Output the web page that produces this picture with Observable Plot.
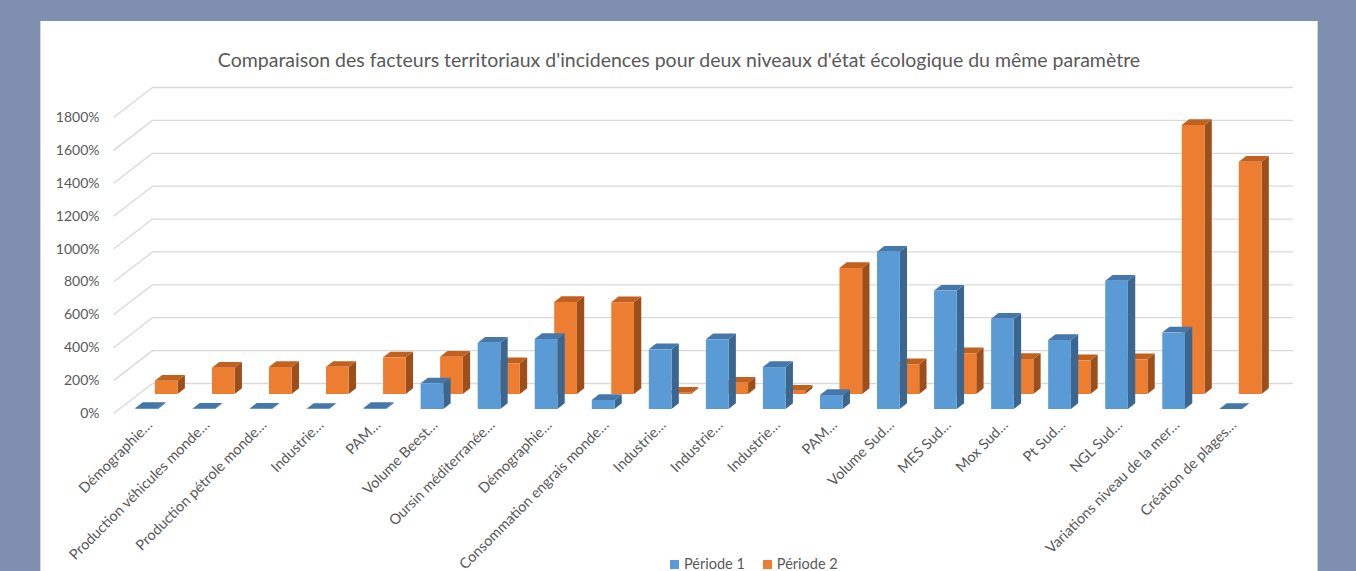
<!DOCTYPE html>
<html><head><meta charset="utf-8">
<script src="https://cdn.jsdelivr.net/npm/d3@7"></script>
<script src="https://cdn.jsdelivr.net/npm/@observablehq/plot@0.6"></script>
<style>
html,body{margin:0;padding:0;}
body{background:#7f8faf;width:1356px;height:571px;overflow:hidden;position:relative;font-family:Lato,"Open Sans",sans-serif;}
#panel{position:absolute;left:40px;top:21px;width:1278px;height:560px;background:#fff;box-shadow:inset 1px 0 #d4d4d4, inset -1px 0 #d4d4d4;}
#title{position:absolute;left:0;top:27px;width:100%;text-align:center;font-size:19.5px;line-height:24px;color:#595959;}
#chart{position:absolute;left:0;top:54px;}
#legend{position:absolute;left:630px;top:534px;display:flex;gap:18px;font-size:14.5px;color:#595959;line-height:18px;}
#legend span.sw{display:inline-block;width:9px;height:9px;margin-right:5px;}
</style>
</head><body>
<div id="panel">
  <div id="title">Comparaison des facteurs territoriaux d'incidences pour deux niveaux d'état écologique du même paramètre</div>
  <div id="chart"></div>
  <div id="legend"></div>
</div>
<script>
// ---- data ----
const categories = ["Démographie…", "Production véhicules monde…", "Production pétrole monde…", "Industrie…", "PAM…", "Volume Beest…", "Oursin méditerranée…", "Démographie…", "Consommation engrais monde…", "Industrie…", "Industrie…", "Industrie…", "PAM…", "Volume Sud…", "MES Sud…", "Mox Sud…", "Pt Sud…", "NGL Sud…", "Variations niveau de la mer…", "Création de plages…"];
const periode1 = [6, 2, 2, 1, 6, 156, 403, 426, 55, 363, 424, 255, 85, 957, 720, 549, 420, 780, 466, 0];
const periode2 = [81, 160, 164, 165, 223, 227, 187, 560, 558, 8, 69, 20, 766, 181, 248, 213, 205, 211, 1636, 1413];
const seriesNames = ["Période 1", "Période 2"];
const yTicks = [0, 200, 400, 600, 800, 1000, 1200, 1400, 1600, 1800];

// ---- layout ----
const W = 1278, H = 500;
const mL = 73, mR = 64, mT = 42, mB = 162;
const xDomain = [-0.5, categories.length - 0.5];
const yDomain = [0, 1800];
const pxX = (W - mL - mR) / (xDomain[1] - xDomain[0]);
const pxY = (H - mB - mT) / (yDomain[1] - yDomain[0]);
const ux = p => p / pxX, uy = p => p / pxY;
const wall = [39, 30];      // depth of back wall (px right, px up)
const depth = [7.3, 5.7];   // depth of each bar
const barW = 22.7;

const rows = [
  {values: periode2, off: [24.7, 19], front: "#ed7d31", top: "#c0611f", side: "#9c4e1b"},
  {values: periode1, off: [5.2, 4], front: "#5b9bd5", top: "#4677aa", side: "#3b6690"}
];

const marks = [];
// back wall gridlines + side wall diagonals
marks.push(Plot.ruleY(yTicks, {y: d => d + uy(wall[1]), x1: xDomain[0] + ux(wall[0]), x2: xDomain[1] + ux(wall[0]), stroke: "#d9d9d9", strokeWidth: 1.3}));
marks.push(Plot.link(yTicks, {x1: xDomain[0], y1: d => d, x2: xDomain[0] + ux(wall[0]), y2: d => d + uy(wall[1]), stroke: "#d9d9d9", strokeWidth: 1.3}));

rows.forEach((r, ri) => {
  const fronts = [], tops = [], sides = [];
  r.values.forEach((v, i) => {
    const xc = i + ux(r.off[0]);
    const x1 = xc - ux(barW / 2), x2 = xc + ux(barW / 2);
    const base = uy(r.off[1]), top = base + v;
    const id = ri + "-" + i;
    fronts.push({x1, x2, y1: base, y2: top});
    tops.push({id, x1, x2, y: top}, {id, x1: x1 + ux(depth[0]), x2: x2 + ux(depth[0]), y: top + uy(depth[1])});
    sides.push({id, x: x2, y1: base, y2: top}, {id, x: x2 + ux(depth[0]), y1: base + uy(depth[1]), y2: top + uy(depth[1])});
  });
  marks.push(Plot.area(sides, {x1: "x", y1: "y1", y2: "y2", z: "id", fill: r.side}));
  marks.push(Plot.area(tops, {x1: "x1", x2: "x2", y1: "y", z: "id", fill: r.top}));
  marks.push(Plot.rect(fronts, {x1: "x1", x2: "x2", y1: "y1", y2: "y2", fill: r.front}));
});

marks.push(Plot.axisY(yTicks, {tickSize: 0, tickPadding: 14, tickFormat: d => d + "%", fontSize: 14}));
marks.push(Plot.axisX(d3.range(categories.length), {tickFormat: i => categories[i], tickRotate: -45, tickSize: 0, tickPadding: 9, dx: 8, fontSize: 14.5}));

const chart = Plot.plot({
  width: W, height: H,
  marginLeft: mL, marginRight: mR, marginTop: mT, marginBottom: mB,
  x: {type: "linear", domain: xDomain},
  y: {type: "linear", domain: yDomain},
  style: {color: "#595959", fontFamily: "Lato, 'Open Sans', sans-serif", fontSize: "14px", background: "transparent", overflow: "visible"},
  marks
});
document.getElementById("chart").appendChild(chart);

// legend
const colors = ["#5b9bd5", "#ed7d31"];
const lg = document.getElementById("legend");
seriesNames.forEach((n, k) => {
  const d = document.createElement("div");
  d.style.display = "flex"; d.style.alignItems = "center";
  d.innerHTML = `<span class="sw" style="background:${colors[k]}"></span><span>${n}</span>`;
  lg.appendChild(d);
});
</script>
</body></html>
